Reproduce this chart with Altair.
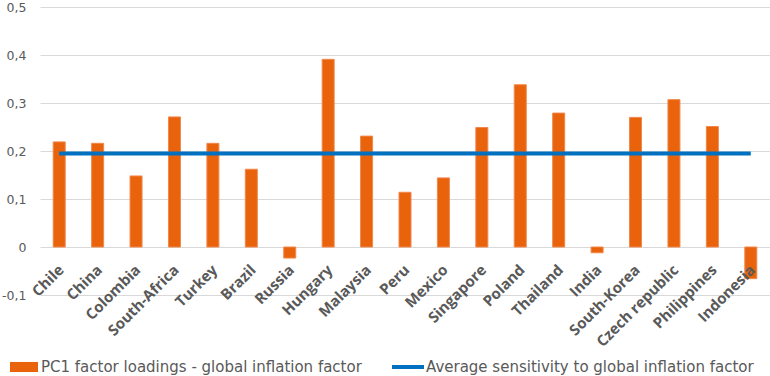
import altair as alt
import pandas as pd

countries = ["Chile", "China", "Colombia", "South-Africa", "Turkey", "Brazil", "Russia",
             "Hungary", "Malaysia", "Peru", "Mexico", "Singapore", "Poland", "Thailand",
             "India", "South-Korea", "Czech republic", "Philippines", "Indonesia"]
loadings = [0.219, 0.216, 0.148, 0.271, 0.216, 0.162, -0.023, 0.391, 0.231, 0.114,
            0.144, 0.249, 0.338, 0.279, -0.012, 0.270, 0.307, 0.251, -0.066]
average_sensitivity = 0.195
bar_series = "PC1 factor loadings - global inflation factor"
line_series = "Average sensitivity to global inflation factor"
y_ticks = [-0.1, 0, 0.1, 0.2, 0.3, 0.4, 0.5]

df = pd.DataFrame({
    "country": countries,
    "loading": loadings,
    "avg": [average_sensitivity] * len(countries),
    "s1": bar_series,
    "s2": line_series,
})

FONT = "Open Sans"
FONT2 = "DejaVu Sans"
GREY = "#595959"

x = alt.X(
    "country:N", sort=countries, title=None,
    scale=alt.Scale(paddingInner=0, paddingOuter=0),
    axis=alt.Axis(labelAngle=-45, labelFont=FONT, labelFontWeight="bold",
                  labelFontSize=15, labelColor=GREY, domain=False, ticks=False,
                  offset=-48, labelPadding=15, labelOffset=-3, grid=False, zindex=1),
)

yscale = alt.Scale(domain=[-0.1, 0.5], nice=False)

bars = alt.Chart(df).mark_bar(size=12, stroke="#F2874A", strokeWidth=1).encode(
    x=x,
    y=alt.Y("loading:Q", scale=yscale, title=None,
            axis=alt.Axis(values=y_ticks, grid=True, gridColor="#D9D9D9", domain=False,
                          ticks=False, labelPadding=14, labelFontSize=12.5, labelColor=GREY,
                          labelFont=FONT2,
                          labelExpr="replace(replace(format(datum.value, '.1~f'), '.', ','), '\u2212', '-')")),
    fill=alt.Fill("s1:N", scale=alt.Scale(range=["#E8630C"]),
                  legend=alt.Legend(title=None, orient="none", legendX=-30, legendY=346,
                                    symbolType="M-1,-0.36H1V0.36H-1Z", symbolSize=784,
                                    symbolStrokeWidth=0, labelFontSize=15, labelFont=FONT2,
                                    labelColor=GREY, labelOffset=3, labelLimit=500)),
)

line = alt.Chart(df).mark_line(strokeWidth=4).encode(
    x=x,
    y=alt.Y("avg:Q", scale=yscale),
    stroke=alt.Stroke("s2:N", scale=alt.Scale(range=["#0070C0"]),
                      legend=alt.Legend(title=None, orient="none", legendX=350, legendY=342,
                                        symbolType="stroke", symbolSize=1024,
                                        symbolStrokeWidth=4, labelFontSize=15, labelFont=FONT2,
                                        labelColor=GREY, labelOffset=0, labelLimit=500)),
)

chart = alt.layer(bars, line).resolve_scale(fill="independent", stroke="independent").properties(
    width=730, height=288,
    autosize=alt.AutoSizeParams(type="none"),
    padding={"left": 40, "top": 7, "right": 0, "bottom": 81},
    background="white",
).configure_view(stroke=None)

chart.save("out.html", embed_options={"renderer": "svg", "actions": False})
